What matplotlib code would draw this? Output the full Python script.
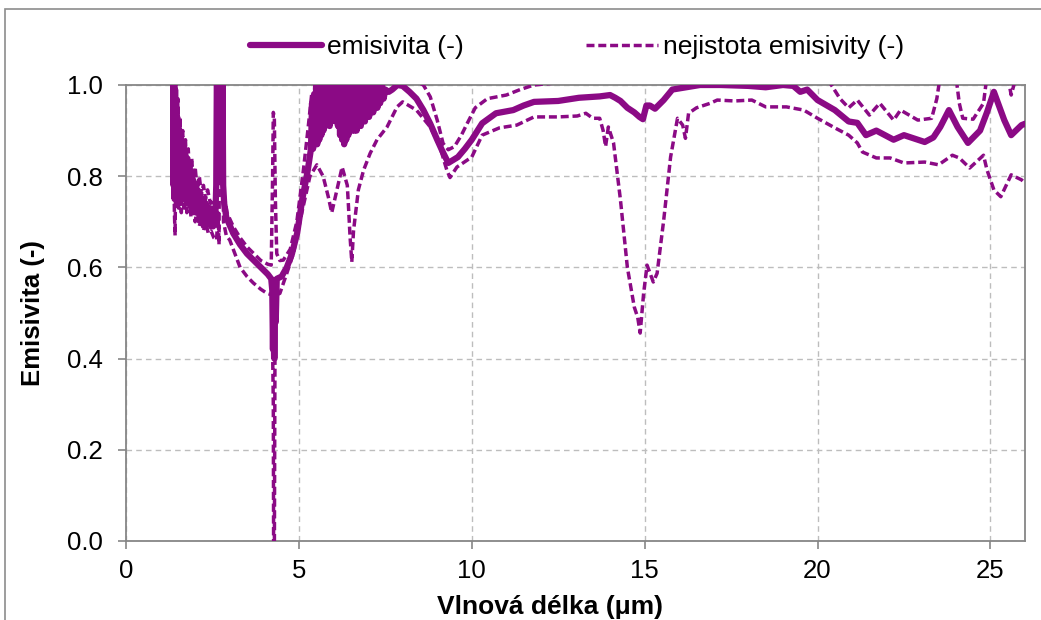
import matplotlib
matplotlib.use("Agg")
import matplotlib.pyplot as plt
from matplotlib.patches import Rectangle

plt.rcParams['font.family'] = ['Liberation Sans', 'DejaVu Sans']

# ---------------- data ----------------
em_x = [1.36, 1.375, 1.39, 1.405, 1.42, 1.435, 1.45, 1.465, 1.48, 1.495, 1.51, 1.53, 1.55,
        1.57, 1.59, 1.61, 1.63, 1.65, 1.67, 1.69, 1.71, 1.73, 1.75, 1.77, 1.79, 1.81, 1.83,
        1.85, 1.87, 1.89, 1.91, 1.93, 1.95, 1.98, 2.01, 2.04, 2.07, 2.10, 2.13, 2.16, 2.19,
        2.22, 2.25, 2.28, 2.31, 2.34, 2.37, 2.40, 2.43, 2.46, 2.49, 2.52, 2.55, 2.58, 2.61,
        2.63, 2.65, 2.67, 2.69, 2.71, 2.73, 2.75, 2.77, 2.79, 2.81, 2.84, 2.9,
        3.1, 3.3, 3.5, 3.7, 3.9, 4.1, 4.2, 4.23, 4.25, 4.27, 4.29, 4.31, 4.33, 4.36, 4.5,
        4.65, 4.8, 4.95, 5.1, 5.25, 5.35, 5.38, 5.41, 5.44, 5.47, 5.50, 5.53, 5.56, 5.59,
        5.62, 5.65, 5.68, 5.71, 5.74, 5.77, 5.80, 5.83, 5.86, 5.89, 5.92, 5.95, 5.98, 6.01,
        6.04, 6.07, 6.10, 6.13, 6.16, 6.19, 6.22, 6.25, 6.28, 6.31, 6.34, 6.37, 6.40, 6.43,
        6.46, 6.49, 6.52, 6.55, 6.58, 6.61, 6.64, 6.67, 6.70, 6.73, 6.76, 6.79, 6.82, 6.85,
        6.88, 6.91, 6.94, 6.97, 7.00, 7.03, 7.06, 7.09, 7.12, 7.15, 7.18, 7.21, 7.24, 7.27,
        7.30, 7.35, 7.40, 7.45, 7.5, 7.6,
        7.7, 7.85, 8.0, 8.2, 8.4, 8.6, 8.8, 9.0, 9.15, 9.32, 9.45, 9.6, 9.8, 10.0,
        10.3, 10.7, 11.2, 11.5, 11.8, 12.5, 13.1, 13.7, 14.0, 14.15, 14.3, 14.5, 14.7,
        14.85, 14.95, 15.05, 15.15, 15.3, 15.55, 15.8, 16.2, 16.6, 17.2, 18.0, 18.5, 19.0,
        19.3, 19.5, 19.7, 20.0, 20.5, 20.9, 21.15, 21.4, 21.7, 22.2, 22.5, 23.1, 23.35,
        23.55, 23.8, 24.05, 24.35, 24.7, 24.9, 25.1, 25.4, 25.6, 25.9, 26.0]
em_y = [1.05, 0.78, 1.02, 0.75, 0.99, 0.76, 0.96, 0.77, 0.93, 0.75, 0.91, 0.77, 0.90,
        0.76, 0.88, 0.77, 0.87, 0.75, 0.86, 0.76, 0.85, 0.75, 0.84, 0.74, 0.83, 0.75, 0.82,
        0.74, 0.81, 0.73, 0.80, 0.74, 0.79, 0.73, 0.78, 0.72, 0.77, 0.72, 0.76, 0.71, 0.75,
        0.71, 0.75, 0.70, 0.74, 0.70, 0.73, 0.70, 0.73, 0.69, 0.72, 0.69, 0.72, 0.70, 0.78,
        1.05, 0.82, 1.05, 0.80, 1.05, 0.82, 1.05, 0.85, 1.05, 0.78, 0.74, 0.71,
        0.675, 0.65, 0.63, 0.615, 0.60, 0.585, 0.575, 0.55, 0.42, 0.57, 0.40, 0.55, 0.48, 0.575, 0.58,
        0.60, 0.63, 0.675, 0.75, 0.81, 0.86, 0.96, 0.86, 0.98, 0.87, 1.0, 0.87, 0.99, 0.88,
        1.01, 0.89, 0.99, 0.90, 1.01, 0.91, 0.99, 0.92, 1.01, 0.91, 0.99, 0.92, 1.01, 0.93,
        0.99, 0.92, 1.01, 0.91, 0.99, 0.89, 1.0, 0.88, 0.98, 0.87, 0.99, 0.88, 1.0, 0.89,
        0.98, 0.90, 1.01, 0.90, 0.99, 0.90, 1.01, 0.90, 0.99, 0.91, 1.01, 0.91, 0.99, 0.92,
        1.01, 0.92, 1.0, 0.93, 1.01, 0.93, 0.99, 0.94, 1.01, 0.94, 1.0, 0.95, 1.01, 0.95,
        1.0, 0.96, 1.0, 0.97, 0.99, 0.985,
        0.99, 1.0, 0.998, 0.985, 0.97, 0.945, 0.915, 0.88, 0.855, 0.829, 0.835, 0.842, 0.86, 0.88,
        0.916, 0.938, 0.945, 0.955, 0.963, 0.965, 0.972, 0.975, 0.978, 0.972, 0.965, 0.95, 0.94,
        0.93, 0.925, 0.955, 0.955, 0.948, 0.967, 0.99, 0.995, 1.0, 1.0, 0.998, 0.995, 1.0,
        0.998, 0.985, 0.99, 0.967, 0.945, 0.92, 0.917, 0.89, 0.90, 0.88, 0.89, 0.875, 0.885,
        0.908, 0.945, 0.908, 0.873, 0.90, 0.94, 0.985, 0.923, 0.89, 0.912, 0.915]

up_x = [1.36, 1.40, 1.42, 1.44, 1.47, 1.50, 1.53, 1.56, 1.60, 1.64, 1.68, 1.72, 1.76, 1.80,
        1.85, 1.90, 1.95, 2.00, 2.06, 2.12, 2.18, 2.24, 2.30, 2.36, 2.44, 2.52, 2.58, 2.62,
        2.65, 2.70, 2.74, 2.80, 2.84, 2.92, 3.1, 3.3, 3.5, 3.7, 3.9, 4.1, 4.2, 4.24, 4.26,
        4.29, 4.32, 4.36, 4.45, 4.55, 4.75, 4.94, 5.13, 5.27, 5.37, 5.42, 5.47, 5.52, 5.57,
        5.62, 5.67, 5.72, 5.77, 5.82, 5.9, 5.95, 6.0, 6.05, 6.1, 6.18, 6.25, 6.3, 6.35, 6.42,
        6.5, 6.58, 6.65, 6.72, 6.8, 6.88, 6.95, 7.02, 7.1, 7.2, 7.3, 7.45, 7.6, 8.6, 8.8,
        9.0, 9.17, 9.32, 9.5, 9.7, 9.87, 10.1, 10.45, 11.0, 11.4, 11.8, 12.5, 14.0, 16.0,
        18.0, 20.2, 20.4, 20.65, 20.9, 21.15, 21.5, 21.8, 22.2, 22.4, 22.9, 23.3, 23.45,
        23.55, 24.0, 24.1, 24.2, 24.5, 24.8, 24.9, 25.5, 25.6, 25.75, 26.0]
up_y = [1.05, 1.05, 0.85, 1.0, 0.86, 0.97, 0.84, 0.93, 0.82, 0.90, 0.80, 0.88, 0.79, 0.86,
        0.79, 0.84, 0.78, 0.82, 0.77, 0.80, 0.76, 0.78, 0.75, 0.77, 0.74, 0.75, 0.73, 0.82,
        1.05, 0.90, 1.05, 1.05, 0.76, 0.72, 0.69, 0.665, 0.645, 0.63, 0.615, 0.607, 0.605, 0.80, 0.94,
        0.93, 0.75, 0.63, 0.615, 0.616, 0.64, 0.70, 0.813, 0.908, 0.98, 0.93, 1.02, 0.95, 1.03,
        0.96, 1.02, 0.94, 1.03, 0.97, 1.02, 0.95, 1.03, 0.96, 1.02, 0.97, 1.02, 0.94, 1.0, 0.96,
        1.03, 0.95, 1.02, 0.96, 1.03, 0.95, 1.02, 0.96, 1.02, 0.98, 1.03, 1.0, 1.04, 1.0, 0.974,
        0.923, 0.872, 0.858, 0.865, 0.89, 0.916, 0.95, 0.97, 0.978, 0.99, 1.0, 1.005, 1.01, 1.01,
        1.01, 1.02, 1.0, 0.97, 0.95, 0.967, 0.934, 0.96, 0.923, 0.945, 0.923, 0.927, 0.97,
        1.02, 1.02, 0.96, 0.927, 0.925, 0.96, 1.02, 1.02, 0.978, 1.02, 1.02]

lo_x = [1.36, 1.38, 1.40, 1.42, 1.44, 1.46, 1.49, 1.52, 1.56, 1.60, 1.64, 1.68, 1.72, 1.76,
        1.82, 1.88, 1.94, 2.00, 2.06, 2.12, 2.18, 2.24, 2.30, 2.38, 2.46, 2.54, 2.62, 2.66,
        2.69, 2.71, 2.75, 2.78, 2.82, 2.9, 3.0, 3.15, 3.3, 3.5, 3.68, 3.9, 4.08, 4.22, 4.26,
        4.27, 4.29, 4.31, 4.35, 4.45, 4.65, 4.84, 5.1, 5.32, 5.52, 5.7, 5.85, 5.95, 6.1, 6.25,
        6.4, 6.43, 6.48, 6.53, 6.58, 6.72, 6.87, 7.06, 7.26, 7.55, 7.84, 8.0, 8.4, 8.8, 9.08,
        9.28, 9.37, 9.57, 10.0, 10.3, 10.8, 11.3, 11.8, 12.5, 13.05, 13.3, 13.5, 13.7, 13.8,
        13.87, 13.95, 14.1, 14.3, 14.5, 14.7, 14.8, 14.87, 14.97, 15.07, 15.25, 15.36, 15.55,
        15.75, 15.95, 16.1, 16.18, 16.27, 16.5, 16.9, 17.1, 17.6, 18.1, 18.5, 19.1, 19.6,
        20.0, 20.5, 20.9, 21.15, 21.3, 21.7, 22.1, 22.5, 23.1, 23.5, 23.9, 24.1, 24.4, 24.8,
        24.9, 25.1, 25.3, 25.6, 25.9, 26.0]
lo_y = [1.05, 0.85, 0.72, 0.67, 0.85, 0.74, 0.88, 0.73, 0.82, 0.72, 0.80, 0.73, 0.78, 0.72,
        0.77, 0.71, 0.75, 0.70, 0.73, 0.69, 0.71, 0.68, 0.70, 0.675, 0.68, 0.665, 0.66, 0.72,
        0.65, 1.05, 0.90, 1.05, 0.70, 0.67, 0.66, 0.63, 0.60, 0.58, 0.566, 0.552, 0.543, 0.54, 0.30,
        -0.05, -0.05, 0.45, 0.54, 0.543, 0.587, 0.63, 0.725, 0.80, 0.825, 0.80, 0.755, 0.72, 0.77, 0.82,
        0.78, 0.74, 0.667, 0.612, 0.68, 0.77, 0.813, 0.85, 0.88, 0.908, 0.952, 0.963, 0.945, 0.908, 0.864,
        0.813, 0.797, 0.82, 0.842, 0.89, 0.906, 0.912, 0.93, 0.93, 0.932, 0.938, 0.927, 0.927, 0.90,
        0.865, 0.908, 0.873, 0.748, 0.60, 0.513, 0.49, 0.456, 0.543, 0.605, 0.568, 0.587, 0.703,
        0.842, 0.927, 0.912, 0.883, 0.938, 0.95, 0.96, 0.967, 0.965, 0.967, 0.952, 0.952, 0.945,
        0.927, 0.906, 0.89, 0.873, 0.853, 0.84, 0.84, 0.829, 0.831, 0.825, 0.846, 0.84, 0.818, 0.846,
        0.814, 0.77, 0.755, 0.803, 0.792, 0.785]

x_ticks = [0, 5, 10, 15, 20, 25]
y_ticks = [0.0, 0.2, 0.4, 0.6, 0.8, 1.0]
y_ticklabels = ['0.0', '0.2', '0.4', '0.6', '0.8', '1.0']

label_main = 'emisivita (-)'
label_unc = 'nejistota emisivity (-)'
xlabel = 'Vlnová délka (μm)'
ylabel = 'Emisivita (-)'

# ---------------- plot ----------------
color = '#8B0A85'
fig = plt.figure(figsize=(10.41, 6.2), dpi=100)
ax = fig.add_axes([126/1041, 79/620, 899/1041, 456/620])

dash = (2.3, 1.1)
l1, = ax.plot(em_x, em_y, color=color, lw=4.5, solid_joinstyle='round',
              solid_capstyle='round', label=label_main, zorder=4)
l2, = ax.plot(up_x, up_y, color=color, lw=2.5, dashes=dash, label=label_unc, zorder=3)
ax.plot(lo_x, lo_y, color=color, lw=2.5, dashes=dash, zorder=3)

ax.set_xlim(0, 26)
ax.set_ylim(0, 1)
ax.set_xticks(x_ticks)
ax.set_yticks(y_ticks)
ax.set_yticklabels(y_ticklabels)
ax.tick_params(axis='both', direction='out', length=6, width=1.2, color='#868686',
               labelsize=18.5, labelcolor='black')
ax.tick_params(axis='x', pad=7)
ax.tick_params(axis='y', pad=11)
ax.grid(True, color='#BDBDBD', linestyle=(0, (4, 3)), linewidth=1)
ax.set_axisbelow(True)
for s in ax.spines.values():
    s.set_color('#868686')
    s.set_linewidth(1.3)

ax.set_xlabel(xlabel, fontsize=19, fontweight='bold', va='center')
ax.xaxis.set_label_coords((550 - 126) / 899, (541 - 607) / 456)
ax.set_ylabel(ylabel, fontsize=18.5, fontweight='bold', va='center')
ax.yaxis.set_label_coords((33 - 126) / 899, (541 - 313) / 456)

fig.legend(handles=[l1, l2], labels=[label_main, label_unc], loc='center',
           bbox_to_anchor=(577/1041, 1 - 47/620), ncol=2, frameon=False,
           fontsize=19, handlelength=2.75, handletextpad=0.2, columnspacing=4.6)

# chart border
fig.patches.append(Rectangle((5/1041, -0.1), 1.2, 1 - 9/620 + 0.1,
                             transform=fig.transFigure, fill=False,
                             edgecolor='#8C8C8C', linewidth=1.2))

fig.savefig('out.png', dpi=100)
